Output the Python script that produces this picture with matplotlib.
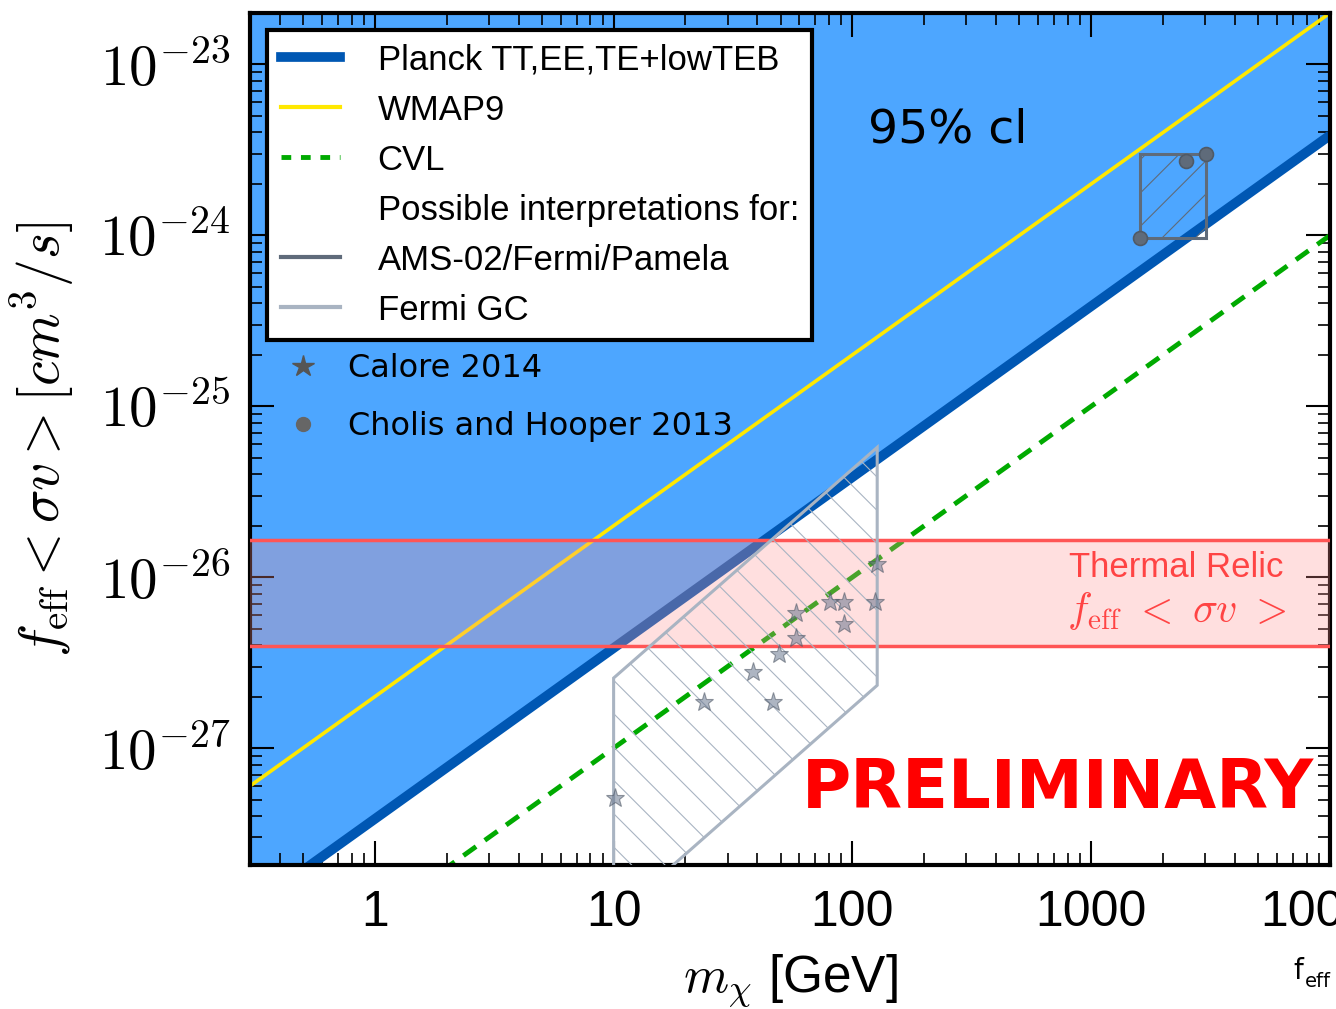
import numpy as np
import matplotlib
matplotlib.use("Agg")
import matplotlib.pyplot as plt
from matplotlib.lines import Line2D
from matplotlib.patches import Polygon

plt.rcParams['font.family'] = ['Liberation Sans', 'DejaVu Sans']
plt.rcParams['mathtext.fontset'] = 'cm'
plt.rcParams['hatch.linewidth'] = 0.8

# line endpoints (m in GeV, f<sv> in cm^3/s)
line_m = [0.3, 10000]
planck_sv = [1.155e-28, 3.85e-24]
wmap_sv = [6.0e-28, 2.0e-23]
cvl_sv = [3.0e-29, 1.0e-24]

relic_lo = 3.95e-27
relic_hi = 1.65e-26

# Fermi GC region
gc_m = [10, 10, 127, 127, 11.4]
gc_sv = [1.2e-28, 2.57e-27, 5.75e-26, 2.33e-27, 1.2e-28]

# AMS-02/Fermi/Pamela region
ams_m = [1603, 3027, 3027, 1603]
ams_sv = [3.0e-24, 3.0e-24, 9.7e-25, 9.7e-25]

# Cholis and Hooper 2013
ch_m = [1603, 2496, 3027]
ch_sv = [9.7e-25, 2.71e-24, 3.0e-24]

# Calore 2014
cal_m = [127.3, 124.8, 80.9, 92.6, 92.6, 57.8, 57.8, 49.5, 38.5, 24.0, 46.3, 10.1]
cal_sv = [1.19e-26, 7.14e-27, 7.14e-27, 7.14e-27, 5.31e-27, 6.15e-27, 4.40e-27,
          3.55e-27, 2.78e-27, 1.86e-27, 1.86e-27, 5.1e-28]

xticks = [1, 10, 100, 1000, 10000]
xticklabels = ['1', '10', '100', '1000', '10000']
yticks = [1e-27, 1e-26, 1e-25, 1e-24, 1e-23]
yticklabels = [r'$10^{-27}$', r'$10^{-26}$', r'$10^{-25}$', r'$10^{-24}$', r'$10^{-23}$']

c_fill = '#4da6ff'
c_planck = '#0057b3'
c_wmap = '#ffe800'
c_cvl = '#00aa00'
c_ams = '#5f6b7a'
c_gc = '#a9b4c2'

fig = plt.figure(figsize=(13.36, 10.09), dpi=100)
ax = fig.add_axes([0.1871, 0.1427, 0.8084, 0.8444])
ax.set_xscale('log')
ax.set_yscale('log')

ax.fill_between(line_m, planck_sv, 1e-20, color=c_fill, lw=0, zorder=1)
ax.plot(line_m, planck_sv, color=c_planck, lw=7, zorder=2, solid_capstyle='butt')
ax.plot(line_m, wmap_sv, color=c_wmap, lw=2.6, zorder=2)
ax.plot(line_m, cvl_sv, color=c_cvl, lw=3.5, ls=(0, (3.2, 2.2)), zorder=2)

ax.axhspan(relic_lo, relic_hi, facecolor='#ff9393', alpha=0.29, lw=0, zorder=3)
ax.axhline(relic_lo, color='#ff5555', lw=2.5, zorder=3)
ax.axhline(relic_hi, color='#ff5555', lw=2.5, zorder=3)

ax.add_patch(Polygon(list(zip(gc_m, gc_sv)), closed=True, facecolor='none',
                     edgecolor=c_gc, lw=2.2, hatch='\\', zorder=4))
ax.add_patch(Polygon(list(zip(ams_m, ams_sv)), closed=True, facecolor='none',
                     edgecolor=c_ams, lw=2.2, hatch='/', zorder=4))
ax.plot(ch_m, ch_sv, 'o', ms=10, color=c_ams, mec='#505a66', mew=1.2, zorder=5)
ax.plot(cal_m, cal_sv, '*', ms=14, color='#6a7890', alpha=0.55, mec='#4a5360', mew=0.8, zorder=5)

ax.set_xlim(0.3, 10000)
ax.set_ylim(2.07e-28, 2e-23)
ax.set_xticks(xticks)
ax.set_xticklabels(xticklabels, fontsize=36)
ax.set_yticks(yticks)
ax.set_yticklabels(yticklabels, fontsize=41)
ax.tick_params(which='both', direction='in', top=True, right=True)
ax.tick_params(which='major', length=17, width=1.5, pad=14)
ax.tick_params(axis='x', which='major', pad=18)
ax.tick_params(which='minor', length=8.5, width=1.2)
for s in ax.spines.values():
    s.set_linewidth(3)

ax.set_xlabel(r'$m_\chi$ [GeV]', fontsize=37, labelpad=12)
ax.set_ylabel(r'$f_{\rm eff} < \sigma v > [cm^3/s]$', fontsize=40, labelpad=16)

handles = [Line2D([], [], color=c_planck, lw=7),
           Line2D([], [], color=c_wmap, lw=3),
           Line2D([], [], color=c_cvl, lw=3.5, ls=(0, (2, 2))),
           Line2D([], [], color='none'),
           Line2D([], [], color=c_ams, lw=3),
           Line2D([], [], color=c_gc, lw=3)]
labels = ['Planck TT,EE,TE+lowTEB', 'WMAP9', 'CVL', 'Possible interpretations for:',
          'AMS-02/Fermi/Pamela', 'Fermi GC']
leg = ax.legend(handles, labels, loc='upper left', fontsize=25, fancybox=False,
                framealpha=1, edgecolor='black', handlelength=1.7, handletextpad=1.1,
                borderpad=0.38, labelspacing=0.49, borderaxespad=0.5)
leg.get_frame().set_linewidth(3)
ax.add_artist(leg)

h2 = [Line2D([], [], ls='none', marker='*', ms=16, color='#555555'),
      Line2D([], [], ls='none', marker='o', ms=10, color='#666666')]
ax.legend(h2, ['Calore 2014', 'Cholis and Hooper 2013'], loc='upper left',
          bbox_to_anchor=(0.008, 0.635), frameon=False, handlelength=1.0,
          handletextpad=0.9, labelspacing=0.85,
          prop={'family': 'DejaVu Sans', 'size': 23})

ax.text(0.572, 0.848, '95% cl', transform=ax.transAxes, fontsize=34,
        family='DejaVu Sans', zorder=6)
ax.text(0.985, 0.067, 'PRELIMINARY', transform=ax.transAxes, fontsize=48.5,
        family='DejaVu Sans', weight='bold', color='red', ha='right', zorder=6)
ax.text(0.858, 0.338, 'Thermal Relic', transform=ax.transAxes, fontsize=25,
        color='#ff4444', ha='center', zorder=6)
ax.text(0.858, 0.285, r'$f_{\rm eff}\ <\ \sigma v\ >$', transform=ax.transAxes,
        fontsize=30, color='#ff4444', ha='center', zorder=6)

fig.text(0.968, 0.03, 'f', fontsize=20, family='DejaVu Sans')
fig.text(0.977, 0.022, 'eff', fontsize=14, family='DejaVu Sans')

fig.savefig('out.png', dpi=100)
